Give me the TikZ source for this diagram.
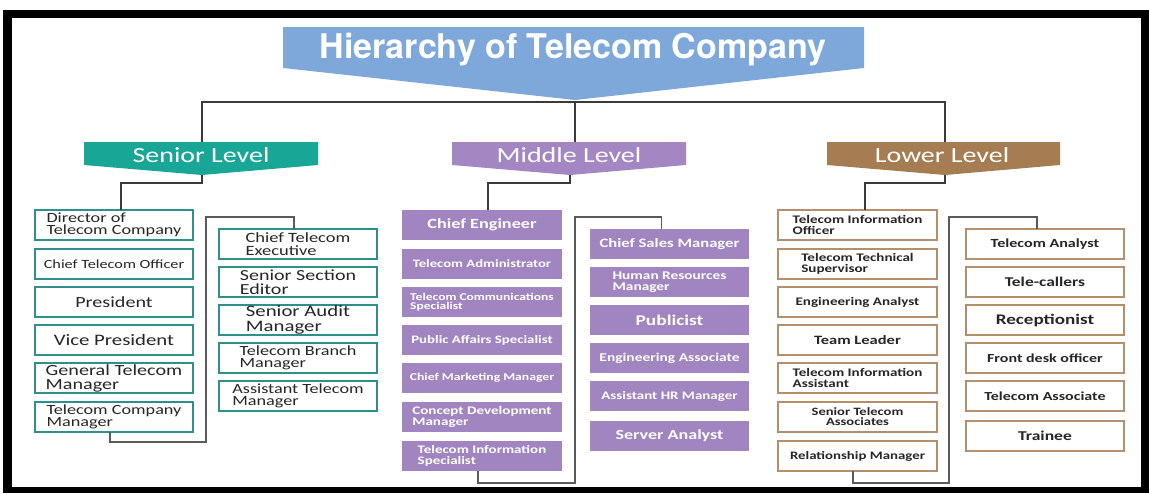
\documentclass[tikz,border=0pt]{standalone}
\usepackage{fontspec}
\newfontfamily\bx{Carlito}[FakeStretch=1.3]
\newfontfamily\tf{TeX Gyre Heros}
\newcommand\fsz[1]{\edef\tmplead{\fpeval{0.9*#1}}\fontsize{#1}{\tmplead}\selectfont}
\definecolor{tblue}{HTML}{7EA8DA}
\definecolor{tealf}{HTML}{18A697}
\definecolor{tealb}{HTML}{2F8F8A}
\definecolor{purpf}{HTML}{A487C2}
\definecolor{purpb}{HTML}{A185C0}
\definecolor{brownf}{HTML}{A67D52}
\definecolor{brownb}{HTML}{B38F6E}
\definecolor{txt}{HTML}{262626}
\definecolor{conncol}{HTML}{3A3A3A}
\definecolor{brcol}{HTML}{5A5A5A}
\begin{document}
\begin{tikzpicture}[x=1pt,y=-1pt,
  box/.style={anchor=north west, minimum height=30, inner sep=0, outer sep=0, align=center},
  sbox/.style={box, draw=tealb, line width=1.6, minimum width=158, text=txt, font=\bx\fsz{#1}},
  mbox/.style={box, fill=purpb, minimum width=160, text=white, font=\bx\bfseries\fsz{#1}},
  lbox/.style={box, draw=brownb, line width=1.6, minimum width=159, text=txt, font=\bx\bfseries\fsz{#1}},
  lvl/.style={text=white, font=\bx\fsz{21.5}, inner sep=0},
  conn/.style={draw=conncol, line width=1.3},
  bconn/.style={draw=brcol, line width=1.4}
]
\useasboundingbox (0,0) rectangle (1149,493);
% frame
\fill[black] (3,10) rectangle (1149,493);
\fill[white] (12,18) rectangle (1141,487);

% title banner
\fill[tblue] (283,27) -- (864,27) -- (864,68) -- (575,100) -- (283,68) -- cycle;
\node[font=\tf\bfseries\fsz{34}, text=white, inner sep=0] (title) at (573,50) {Hierarchy of Telecom Company};
\coordinate (hub) at (575,102);

% level banners
\fill[tealf] (84,142) -- (318,142) -- (318,165) -- (202,175) -- (84,165) -- cycle;
\node[lvl] (senior) at (201,155) {Senior Level};
\coordinate (stop) at (202,142);
\coordinate (stip) at (202,175);

\fill[purpf] (452,142) -- (686,142) -- (686,165) -- (570,175) -- (452,165) -- cycle;
\node[lvl] (middle) at (569,155) {Middle Level};
\coordinate (mtop) at (575,142);
\coordinate (mtip) at (570,175);

\fill[brownf] (827,142) -- (1060,142) -- (1060,165) -- (945,175) -- (827,165) -- cycle;
\node[lvl] (lower) at (942,155) {Lower Level};
\coordinate (ltop) at (945,142);
\coordinate (ltip) at (945,175);

\draw[conn] (stop) |- (hub) -| (ltop);
\draw[conn] (hub) -- (mtop);

% senior boxes
\node[sbox=14, align=left] (sl1) at (35,210) {Director of\\Telecom Company};
\node[sbox=12.5] (sl2) at (35,249) {Chief Telecom Officer};
\node[sbox=15.5] (sl3) at (35,287) {President};
\node[sbox=16] (sl4) at (35,325) {Vice President};
\node[sbox=15.5, align=left] (sl5) at (35,363) {General Telecom\\Manager};
\node[sbox=14, align=left] (sl6) at (35,402) {Telecom Company\\Manager};

\node[sbox=14.2, align=left] (sr1) at (219,229) {Chief Telecom\\Executive};
\node[sbox=15.4, align=left] (sr2) at (219,267) {Senior Section\\Editor};
\node[sbox=16, align=left] (sr3) at (219,305) {Senior Audit\\Manager};
\node[sbox=14, align=left] (sr4) at (219,343) {Telecom Branch\\Manager};
\node[sbox=14, align=left] (sr5) at (219,381) {Assistant Telecom\\Manager};

% middle boxes
\node[mbox=14] (ml1) at (402,210) {Chief Engineer};
\node[mbox=11.3] (ml2) at (402,249) {Telecom Administrator};
\node[mbox=10.4, align=left] (ml3) at (402,287) {Telecom Communications\\Specialist};
\node[mbox=11.4] (ml4) at (402,325) {Public Affairs Specialist};
\node[mbox=10.5] (ml5) at (402,363) {Chief Marketing Manager};
\node[mbox=11.6, align=left] (ml6) at (402,402) {Concept Development\\Manager};
\node[mbox=11.5, align=left] (ml7) at (402,441) {Telecom Information\\Specialist};

\node[mbox=12.8, minimum width=159] (mr1) at (590,229) {Chief Sales Manager};
\node[mbox=11.8, minimum width=159, align=left] (mr2) at (590,267) {Human Resources\\Manager};
\node[mbox=14.9, minimum width=159] (mr3) at (590,305) {Publicist};
\node[mbox=11.9, minimum width=159] (mr4) at (590,343) {Engineering Associate};
\node[mbox=11.5, minimum width=159] (mr5) at (590,381) {Assistant HR Manager};
\node[mbox=13.9, minimum width=159] (mr6) at (590,421) {Server Analyst};

% lower boxes
\node[lbox=11.6, align=left] (ll1) at (778,210) {Telecom Information\\Officer};
\node[lbox=11.6, align=left] (ll2) at (778,249) {Telecom Technical\\Supervisor};
\node[lbox=11.6] (ll3) at (778,287) {Engineering Analyst};
\node[lbox=12.7] (ll4) at (778,325) {Team Leader};
\node[lbox=11.6, align=left] (ll5) at (778,363) {Telecom Information\\Assistant};
\node[lbox=11.2] (ll6) at (778,402) {Senior Telecom\\Associates};
\node[lbox=11.4] (ll7) at (778,441) {Relationship Manager};

\node[lbox=12.4, minimum width=158] (lr1) at (966,229) {Telecom Analyst};
\node[lbox=13.4, minimum width=158] (lr2) at (966,267) {Tele-callers};
\node[lbox=14.7, minimum width=158] (lr3) at (966,305) {Receptionist};
\node[lbox=12.3, minimum width=158] (lr4) at (966,343) {Front desk officer};
\node[lbox=12.3, minimum width=158] (lr5) at (966,381) {Telecom Associate};
\node[lbox=13.5, minimum width=158] (lr6) at (966,421) {Trainee};

% connectors from level banners to first boxes
\draw[conn] (stip) -- ++(0,8) -| ([xshift=7]sl1.north);
\draw[conn] (mtip) -- ++(0,8) -| ([xshift=6]ml1.north);
\draw[conn] (ltip) -- ++(0,8) -| ([xshift=7.5]ll1.north);

% brackets to second columns
\coordinate (sgap) at (206,217);
\coordinate (mgap) at (575,217);
\coordinate (lgap) at (949,217);
\draw[bconn] ([xshift=-4]sl6.south) -- ++(0,10) -| (sgap) -| ([xshift=-4]sr1.north);
\draw[bconn] ([xshift=-4]ml7.south) -- ++(0,12) -| (mgap) -| ([xshift=-8]mr1.north);
\draw[bconn] ([xshift=-4.5]ll7.south) -- ++(0,12) -| (lgap) -| ([xshift=-8]lr1.north);
\end{tikzpicture}
\end{document}
